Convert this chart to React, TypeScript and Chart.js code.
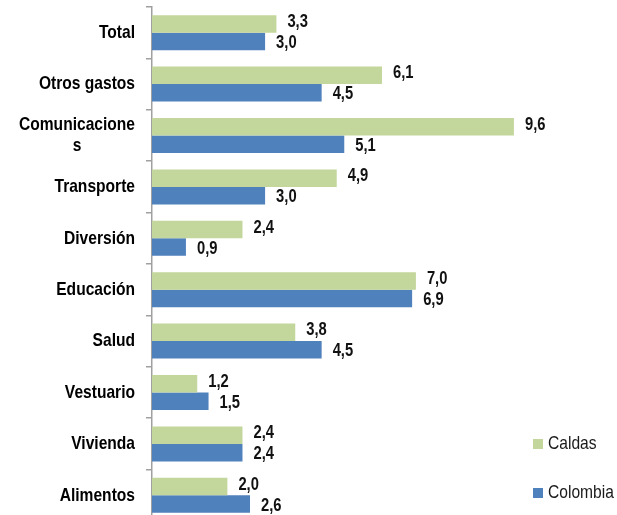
import React, { useEffect, useRef } from "react";
import { Chart, registerables } from "chart.js";

Chart.register(...registerables);

const categories: string[][] = [
  ["Total"],
  ["Otros gastos"],
  ["Comunicacione", "s"],
  ["Transporte"],
  ["Diversión"],
  ["Educación"],
  ["Salud"],
  ["Vestuario"],
  ["Vivienda"],
  ["Alimentos"],
];
const caldas: number[] = [3.3, 6.1, 9.6, 4.9, 2.4, 7.0, 3.8, 1.2, 2.4, 2.0];
const colombia: number[] = [3.0, 4.5, 5.1, 3.0, 0.9, 6.9, 4.5, 1.5, 2.4, 2.6];
const seriesNames: string[] = ["Caldas", "Colombia"];
const seriesColors: string[] = ["#c3d69b", "#4f81bd"];

const FONT = '"Liberation Sans", Arial, sans-serif';
const SX = 0.82;

function drawNarrow(ctx: CanvasRenderingContext2D, txt: string, x: number, y: number, align: CanvasTextAlign) {
  ctx.save();
  ctx.translate(x, y);
  ctx.scale(SX, 1);
  ctx.textAlign = align;
  ctx.fillText(txt, 0, 0);
  ctx.restore();
}

const customPlugin = {
  id: "customDraw",
  afterDatasetsDraw(chart: any) {
    const ctx = chart.ctx;
    ctx.save();
    ctx.font = `bold 18px ${FONT}`;
    ctx.fillStyle = "#111111";
    ctx.textBaseline = "middle";
    chart.data.datasets.forEach((ds: any, di: number) => {
      const meta = chart.getDatasetMeta(di);
      meta.data.forEach((el: any, i: number) => {
        const v = ds.data[i] as number;
        const txt = v.toFixed(1).replace(".", ",");
        drawNarrow(ctx, txt, el.x + 11, el.y + (di === 0 ? -2 : 1.5), "left");
      });
    });
    ctx.restore();
  },
  afterDraw(chart: any) {
    const ctx = chart.ctx;
    const yScale = chart.scales.y;
    ctx.save();
    // category labels
    ctx.font = `bold 19px ${FONT}`;
    ctx.fillStyle = "#000000";
    ctx.textBaseline = "middle";
    const rightEdge = 135;
    const lineH = 21;
    categories.forEach((lines, i) => {
      const y = yScale.getPixelForValue(i);
      const w = Math.max(...lines.map((l) => ctx.measureText(l).width)) * SX;
      const cx = rightEdge - w / 2;
      const y0 = y - ((lines.length - 1) * lineH) / 2;
      lines.forEach((l, k) => drawNarrow(ctx, l, cx, y0 + k * lineH, "center"));
    });
    // legend
    ctx.font = `19px ${FONT}`;
    const legendY = [444, 493];
    seriesNames.forEach((name, i) => {
      ctx.fillStyle = seriesColors[i];
      ctx.fillRect(533, legendY[i] - 5, 10, 10);
      ctx.fillStyle = "#1a1a1a";
      drawNarrow(ctx, name, 548, legendY[i], "left");
    });
    ctx.restore();
  },
};

export default function App() {
  const ref = useRef<HTMLCanvasElement | null>(null);
  useEffect(() => {
    if (!ref.current) return;
    const chart = new Chart(ref.current, {
      type: "bar",
      data: {
        labels: categories.map((c) => c.join("")),
        datasets: [
          {
            label: seriesNames[0],
            data: caldas,
            backgroundColor: seriesColors[0],
            borderWidth: 0,
            categoryPercentage: 0.68,
            barPercentage: 1,
          },
          {
            label: seriesNames[1],
            data: colombia,
            backgroundColor: seriesColors[1],
            borderWidth: 0,
            categoryPercentage: 0.68,
            barPercentage: 1,
          },
        ],
      },
      options: {
        indexAxis: "y",
        animation: false,
        responsive: false,
        maintainAspectRatio: false,
        layout: { padding: { top: 7, right: 88, bottom: 0, left: 0 } },
        plugins: {
          legend: { display: false },
          tooltip: { enabled: false },
        },
        scales: {
          x: {
            display: false,
            min: 0,
            max: 10,
          },
          y: {
            type: "category",
            offset: true,
            grid: {
              display: true,
              offset: true,
              drawOnChartArea: false,
              drawTicks: true,
              tickLength: 6,
              color: "#a0a0a0",
              lineWidth: 1.5,
            },
            border: { display: true, color: "#a0a0a0", width: 1.5 },
            ticks: { display: false },
            afterFit: (scale: any) => {
              scale.width = 152;
            },
          },
        },
      },
      plugins: [customPlugin],
    });
    return () => chart.destroy();
  }, []);
  return (
    <div
      style={{
        position: "absolute",
        left: 0,
        top: 0,
        width: 617,
        height: 515,
        overflow: "hidden",
        background: "#ffffff",
      }}
    >
      <canvas ref={ref} width={617} height={521} style={{ display: "block" }} />
    </div>
  );
}
